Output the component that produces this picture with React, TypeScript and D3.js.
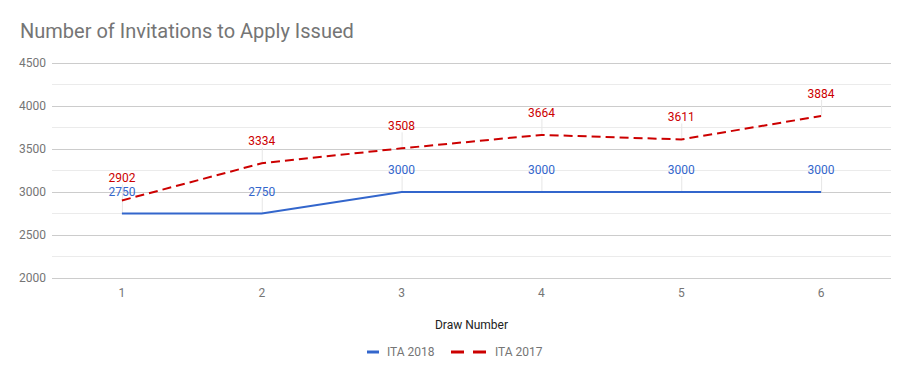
import React from "react";
import * as d3 from "d3";

const draws = [1, 2, 3, 4, 5, 6];
const ita2018 = [2750, 2750, 3000, 3000, 3000, 3000];
const ita2017 = [2902, 3334, 3508, 3664, 3611, 3884];
const yTicks = [2000, 2500, 3000, 3500, 4000, 4500];
const yMinorTicks = [2250, 2750, 3250, 3750, 4250];

const W = 910, H = 379;
const L = 52, R = 891, T = 63, B = 278;
const BLUE = "#3366cc", RED = "#cc0000";
const FONT = "Roboto, Arial, sans-serif";

export default function App() {
  const x = d3.scaleLinear().domain([0.5, 6.5]).range([L, R]);
  const y = d3.scaleLinear().domain([2000, 4500]).range([B, T]);
  const line = d3.line<number>().x((_, i) => x(draws[i])).y((d) => y(d));
  const series = [
    { name: "ITA 2017", data: ita2017, color: RED, dash: "9,5" },
    { name: "ITA 2018", data: ita2018, color: BLUE, dash: undefined as string | undefined },
  ];
  return (
    <svg width={W} height={H} style={{ position: "absolute", left: 0, top: 0, fontFamily: FONT }}>
      <rect width={W} height={H} fill="#fff" />
      <text x={20} y={38} fontSize={20} fill="#757575">Number of Invitations to Apply Issued</text>
      {yMinorTicks.map((t) => (
        <line key={"m" + t} x1={L} x2={R} y1={y(t)} y2={y(t)} stroke="#ebebeb" strokeWidth={1} />
      ))}
      {yTicks.map((t) => (
        <g key={t}>
          <line x1={L} x2={R} y1={Math.round(y(t)) + 0.5} y2={Math.round(y(t)) + 0.5} stroke="#cccccc" strokeWidth={1} />
          <text x={46} y={y(t) + 4} fontSize={12} fill="#757575" textAnchor="end">{t}</text>
        </g>
      ))}
      {draws.map((d) => (
        <text key={d} x={x(d)} y={297} fontSize={12} fill="#757575" textAnchor="middle">{d}</text>
      ))}
      <text x={x(3.5)} y={329} fontSize={12} fill="#222" textAnchor="middle">Draw Number</text>
      {/* annotation stems */}
      {series.map((s) =>
        s.data.map((v, i) => (
          <line key={s.name + "st" + i} x1={x(draws[i]) + 0.5} x2={x(draws[i]) + 0.5} y1={y(v) - 16} y2={y(v)} stroke="#e6e6e6" strokeWidth={1} />
        ))
      )}
      {series.map((s) => (
        <path key={s.name} d={line(s.data) || ""} fill="none" stroke={s.color} strokeWidth={2} strokeDasharray={s.dash} />
      ))}
      {series.map((s) =>
        s.data.map((v, i) => (
          <text key={s.name + "l" + i} x={x(draws[i])} y={y(v) - 18} fontSize={12} fill={s.color} textAnchor="middle">{v}</text>
        ))
      )}
      {/* legend */}
      <line x1={367} x2={379} y1={352} y2={352} stroke={BLUE} strokeWidth={3} />
      <text x={387} y={356} fontSize={12} fill="#757575">ITA 2018</text>
      <line x1={451} x2={464} y1={352} y2={352} stroke={RED} strokeWidth={3} />
      <line x1={473} x2={486} y1={352} y2={352} stroke={RED} strokeWidth={3} />
      <text x={495} y={356} fontSize={12} fill="#757575">ITA 2017</text>
    </svg>
  );
}
